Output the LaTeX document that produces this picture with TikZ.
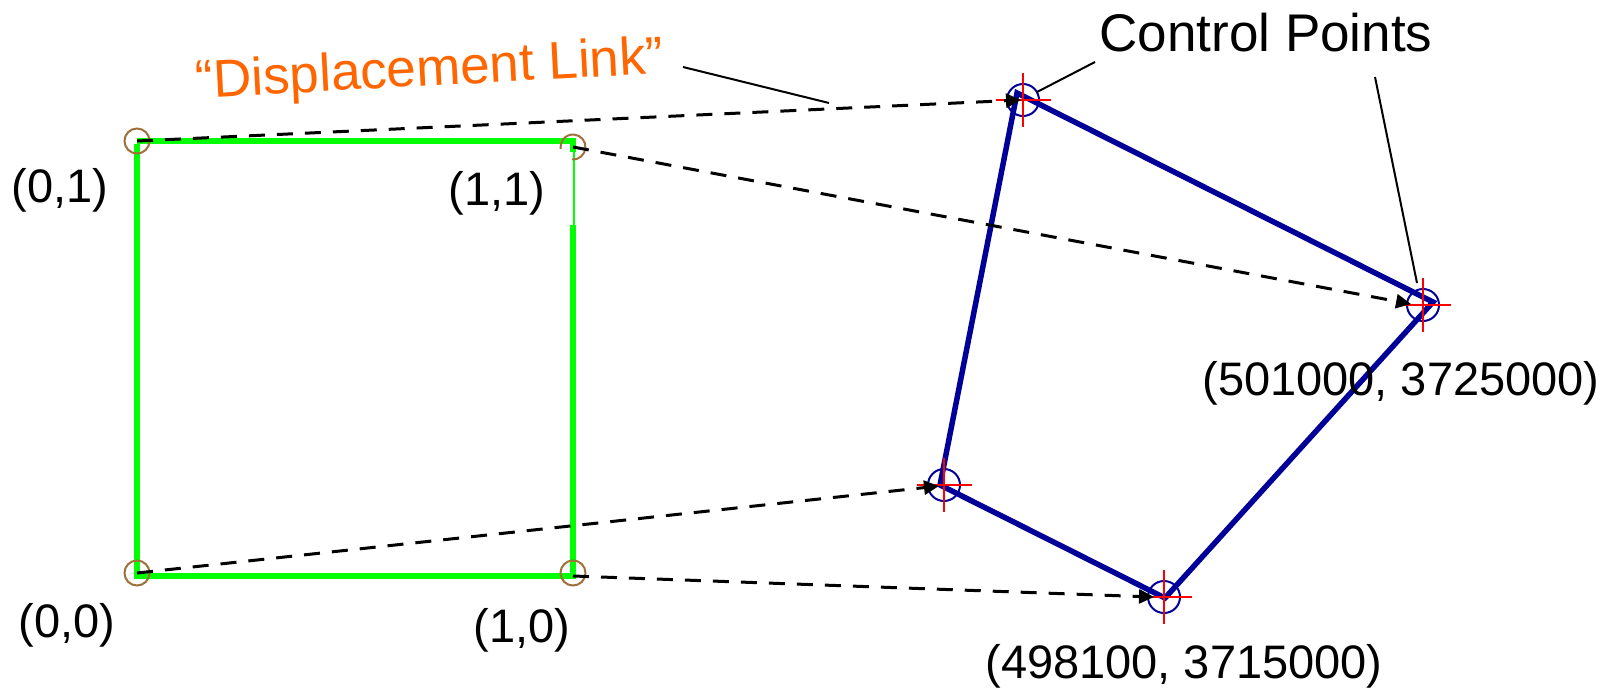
\documentclass[tikz,border=0pt]{standalone}
\usepackage{fontspec}
\setmainfont{Liberation Sans}
\usetikzlibrary{arrows.meta}
\definecolor{gr}{HTML}{00FF00}
\definecolor{bl}{HTML}{000099}
\definecolor{br}{HTML}{A0703A}
\definecolor{og}{HTML}{FF6600}
\tikzset{
  brownring/.style={circle,draw=br,line width=2pt,minimum size=25pt,inner sep=0pt},
  bluering/.style={circle,draw=bl,line width=2pt,minimum size=32pt,inner sep=0pt},
  greenedge/.style={draw=gr,line width=5.5pt},
  blueedge/.style={draw=bl,line width=5.5pt},
  crossline/.style={draw=red,line width=1.6pt},
  link/.style={draw=black,line width=3pt,dash pattern=on 16pt off 12pt,-{Triangle[length=15pt,width=14pt]}},
  leader/.style={draw=black,line width=2pt},
  lab/.style={font=\fontsize{47}{47}\selectfont,text=black,inner sep=0pt},
  biglab/.style={font=\fontsize{53}{53}\selectfont,text=black,inner sep=0pt},
}
\begin{document}
\begin{tikzpicture}[x=1pt,y=-1pt]
\useasboundingbox (0,0) rectangle (1617,691);
% source square
\coordinate (s00) at (137,573);
\coordinate (s10) at (573,573);
\coordinate (s01) at (137,141);
\coordinate (s11) at (573,147);
\coordinate (gbl) at (137,576);
\coordinate (gbr) at (573,576);
\coordinate (gtl) at (137,141);
\coordinate (gtr) at (573,141);
\coordinate (gm) at (573,225);
\coordinate (gmt) at (574,150);
\coordinate (gmb) at (574,225);
\draw[greenedge] ([yshift=-2.75pt]gtl) -- (gbl);
\draw[greenedge] ([xshift=-2.75pt]gbl) -- ([xshift=2.75pt]gbr);
\draw[greenedge] (gtl) -- ([xshift=2.75pt]gtr);
\draw[greenedge] (gm) -- (gbr);
\draw[draw=gr,line width=2pt] (gmt) -- (gmb);
\draw[greenedge] (gtr) -- (573,152);
% target quad
\coordinate (t1) at (1017,93);
\coordinate (t2) at (1433,302);
\coordinate (t3) at (1165,598);
\coordinate (t4) at (940,485);
\draw[blueedge,line join=miter] (t1) -- (t2) -- (t3) -- (t4) -- cycle;
% control points
\node[bluering] (c1) at (1023,100) {};
\node[bluering] (c2) at (1423,305) {};
\node[bluering] (c3) at (944,485) {};
\node[bluering] (c4) at (1164,597) {};
\foreach \c in {c1,c2,c3,c4}{
  \draw[crossline] ([xshift=-27.5pt]\c.center) -- ([xshift=27.5pt]\c.center);
  \draw[crossline] ([yshift=-27pt]\c.center) -- ([yshift=27pt]\c.center);
}
% brown rings
\node[brownring] (r00) at (s00) {};
\node[brownring] (r10) at (s10) {};
\node[brownring] (r01) at (s01) {};
\draw[draw=br,line width=2pt] (571.9,159.45) arc[start angle=265,end angle=550,radius=12.5pt];
% displacement links
\coordinate (k1) at (1021,100);
\coordinate (k2) at (1411,304);
\coordinate (k3) at (939,486);
\coordinate (k4) at (1154,597);
\coordinate (st4) at (573,576);
\draw[link] (s01) -- (k1);
\draw[link] (s11) -- (k2);
\draw[link] (s00) -- (k3);
\draw[link] (st4) -- (k4);
% leaders
\coordinate (l1a) at (683,67);
\coordinate (l1b) at (829,103);
\coordinate (l2a) at (1095,62);
\coordinate (l2b) at (1037,92);
\coordinate (l3a) at (1375,77);
\coordinate (l3b) at (1417,283);
\draw[leader] (l1a) -- (l1b);
\draw[leader] (l2a) -- (l2b);
\draw[leader] (l3a) -- (l3b);
% labels
\node[biglab,text=og,rotate=3] (disp) at (430,72) {“Displacement Link”};
\node[biglab] (cp) at (1266,33) {Control Points};
\node[lab] (a01) at (60,190) {(0,1)};
\node[lab] (a11) at (497,193) {(1,1)};
\node[lab] (a00) at (67,625) {(0,0)};
\node[lab] (a10) at (522,630) {(1,0)};
\node[lab] (b1) at (1401,383) {(501000, 3725000)};
\node[lab] (b2) at (1184,666) {(498100, 3715000)};
\end{tikzpicture}
\end{document}
